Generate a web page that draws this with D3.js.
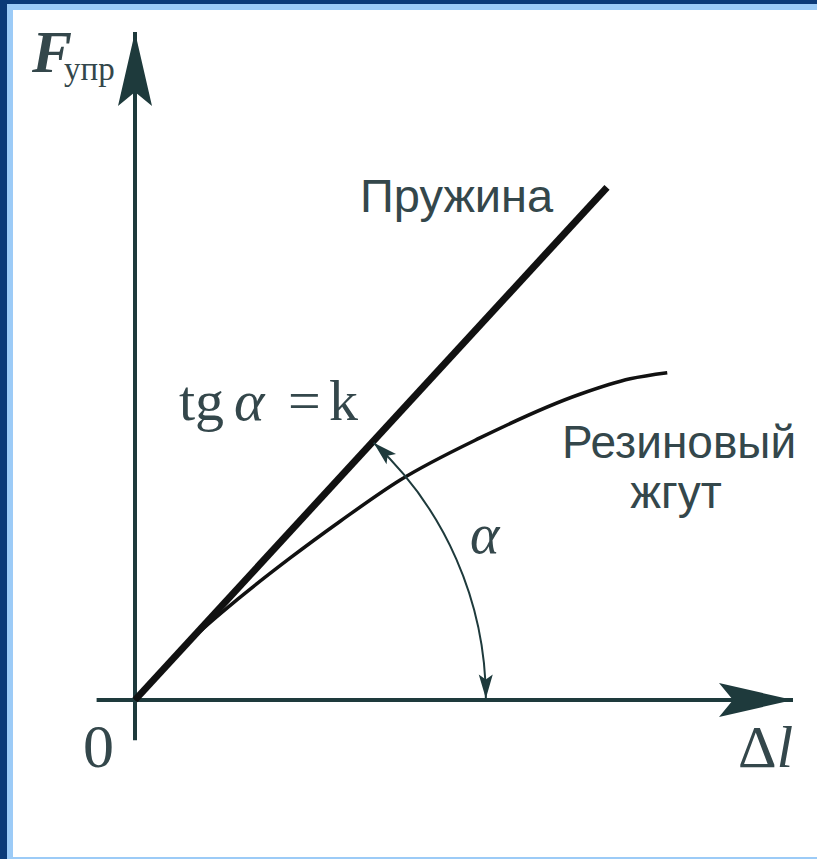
<!DOCTYPE html>
<html>
<head>
<meta charset="utf-8">
<script src="https://cdn.jsdelivr.net/npm/d3@7"></script>
<style>
  html, body { margin: 0; padding: 0; overflow: hidden; background: #ffffff; }
  svg { display: block; }
</style>
</head>
<body>
<div id="chart"></div>
<script>
// spring (straight line) and rubber cord (curve), Δl vs F in relative units
const springDl = [0, 71.3];
const springF = [0, 76.3];
const rubberDl = [0, 8.3, 15.9, 23.4, 31.0, 40.0, 52.1, 67.2, 74.8, 80.4];
const rubberF = [0, 8.8, 15.3, 21.1, 26.6, 32.7, 39.0, 45.5, 47.8, 48.7];
const axisDl = [-5.8, 100];
const axisF = [-6, 100];
const alphaRadius = 53;

const W = 817, H = 859;
const ink = "#1e3a3c";

const svg = d3.select("#chart").append("svg")
    .attr("width", W)
    .attr("height", H);

// frame
svg.append("rect").attr("width", W).attr("height", H).attr("fill", "#0b3a78");
svg.append("rect").attr("x", 7).attr("y", 4).attr("width", W).attr("height", H)
    .attr("fill", "#9ccbf7");
svg.append("rect").attr("x", 13).attr("y", 10).attr("width", W).attr("height", 847)
    .attr("fill", "#ffffff");

const x = d3.scaleLinear().domain([0, 100]).range([135, 797]);
const y = d3.scaleLinear().domain([0, 100]).range([700, 28]);

const defs = svg.append("defs");
defs.append("marker")
    .attr("id", "bigArrow")
    .attr("markerUnits", "userSpaceOnUse")
    .attr("viewBox", "-76 -20 80 40")
    .attr("markerWidth", 80).attr("markerHeight", 40)
    .attr("refX", 0).attr("refY", 0)
    .attr("orient", "auto")
    .append("path")
    .attr("d", "M0,0 L-74,-17 L-60,0 L-74,17 Z")
    .attr("fill", ink);

defs.append("marker")
    .attr("id", "smallArrow")
    .attr("markerUnits", "userSpaceOnUse")
    .attr("viewBox", "-26 -10 28 20")
    .attr("markerWidth", 28).attr("markerHeight", 20)
    .attr("refX", 0).attr("refY", 0)
    .attr("orient", "auto-start-reverse")
    .append("path")
    .attr("d", "M0,0 L-24,-7 L-19,0 L-24,7 Z")
    .attr("fill", ink);

// axes
svg.append("line")
    .attr("x1", x(axisDl[0])).attr("y1", y(0))
    .attr("x2", x(axisDl[1]) - 4).attr("y2", y(0))
    .attr("stroke", ink).attr("stroke-width", 4)
    .attr("marker-end", "url(#bigArrow)");

svg.append("line")
    .attr("x1", x(0)).attr("y1", y(axisF[0]))
    .attr("x2", x(0)).attr("y2", y(axisF[1]) + 4)
    .attr("stroke", ink).attr("stroke-width", 4)
    .attr("marker-end", "url(#bigArrow)");

// rubber cord
const rubber = rubberDl.map((d, i) => [d, rubberF[i]]);
svg.append("path")
    .datum(rubber)
    .attr("fill", "none")
    .attr("stroke", "#111")
    .attr("stroke-width", 3.5)
    .attr("d", d3.line().x(d => x(d[0])).y(d => y(d[1])).curve(d3.curveMonotoneX));

// spring
const spring = springDl.map((d, i) => [d, springF[i]]);
svg.append("path")
    .datum(spring)
    .attr("fill", "none")
    .attr("stroke", "#111")
    .attr("stroke-width", 7)
    .attr("d", d3.line().x(d => x(d[0])).y(d => y(d[1])));

// angle arc
const angle = Math.atan2(y(0) - y(springF[1]), x(springDl[1]) - x(0));
const r = x(alphaRadius) - x(0);
const p = d3.path();
p.arc(x(0), y(0), r, -0.004, -angle + 0.004, true);
svg.append("path")
    .attr("d", p.toString())
    .attr("fill", "none")
    .attr("stroke", ink)
    .attr("stroke-width", 2)
    .attr("marker-start", "url(#smallArrow)")
    .attr("marker-end", "url(#smallArrow)");

// labels
const serif = "'Liberation Serif', 'Times New Roman', serif";
const sans = "'Liberation Sans', Arial, sans-serif";
const textInk = "#34474b";

svg.append("text").attr("x", 32).attr("y", 72)
    .style("font-family", serif).style("font-size", "60px")
    .style("font-weight", "bold").style("font-style", "italic")
    .attr("fill", textInk).text("F");
svg.append("text").attr("x", 64).attr("y", 80)
    .style("font-family", serif).style("font-size", "33px")
    .attr("fill", textInk).text("упр");

svg.append("text").attr("x", 83).attr("y", 767)
    .style("font-family", serif).style("font-size", "62px")
    .attr("fill", textInk).text("0");

const dl = svg.append("text").attr("x", 738).attr("y", 767)
    .style("font-family", serif).style("font-size", "60px")
    .attr("fill", textInk);
dl.append("tspan").text("Δ");
dl.append("tspan").style("font-style", "italic").text("l");

svg.append("text").attr("x", 360).attr("y", 212)
    .style("font-family", sans).style("font-size", "47px")
    .attr("fill", textInk).text("Пружина");

svg.append("text").attr("x", 679).attr("y", 458)
    .attr("text-anchor", "middle")
    .style("font-family", sans).style("font-size", "46px")
    .attr("fill", textInk).text("Резиновый");
svg.append("text").attr("x", 676).attr("y", 508)
    .attr("text-anchor", "middle")
    .style("font-family", sans).style("font-size", "46px")
    .attr("fill", textInk).text("жгут");

const tg = [
    { t: "tg", x: 179, italic: false },
    { t: "α", x: 234, italic: true },
    { t: "=", x: 288, italic: false },
    { t: "k", x: 329, italic: false }
];
svg.selectAll("text.tg")
    .data(tg)
    .join("text")
    .attr("class", "tg")
    .attr("x", d => d.x).attr("y", 420)
    .style("font-family", serif).style("font-size", "58px")
    .style("font-style", d => d.italic ? "italic" : "normal")
    .attr("fill", textInk)
    .text(d => d.t);

svg.append("text").attr("x", 470).attr("y", 553)
    .style("font-family", serif).style("font-size", "56px")
    .style("font-style", "italic")
    .attr("fill", textInk).text("α");
</script>
</body>
</html>
